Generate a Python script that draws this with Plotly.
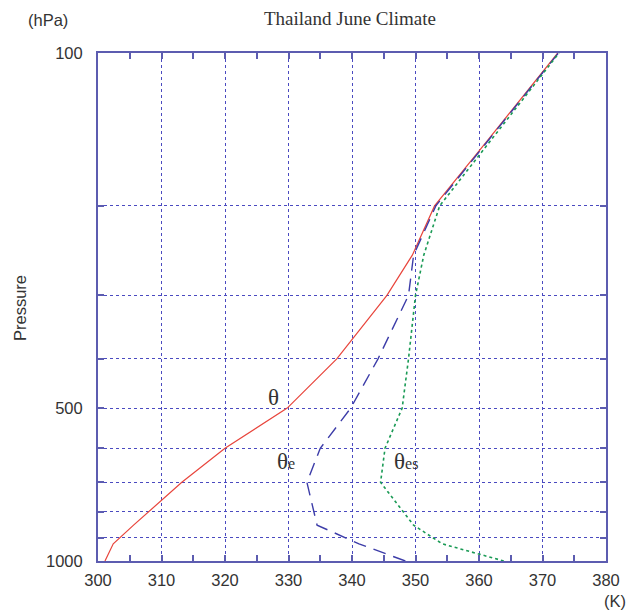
import plotly.graph_objects as go

# Pressure levels (hPa)
pressure = [1000, 925, 850, 700, 600, 500, 400, 300, 250, 200, 150, 100]
# Potential temperature (K)
theta = [301.1, 302.4, 305.6, 313.2, 320.0, 329.8, 337.6, 345.5, 349.5, 353.0, 361.1, 372.4]
# Equivalent potential temperature (K)
theta_e = [348.4, 341.1, 334.5, 332.9, 335.0, 339.8, 344.1, 348.9, 349.7, 353.2, 361.2, 372.5]
# Saturated equivalent potential temperature (K)
theta_es = [363.9, 354.2, 349.7, 344.5, 345.2, 347.9, 348.9, 350.0, 351.3, 353.8, 361.6, 372.6]

grid_levels = [100, 200, 300, 400, 500, 600, 700, 800, 900, 1000]
grid_labels = ["100", "", "", "", "500", "", "", "", "", "1000"]
x_ticks = [300, 310, 320, 330, 340, 350, 360, 370, 380]

AXIS_COLOR = "#5c5cb0"
GRID_COLOR = "#4a4ac0"
SANS = "Liberation Sans, Arial, sans-serif"
TICK_FONT = dict(family=SANS, size=16.5, color="#333333")
SERIF = "Liberation Serif, Times New Roman, serif"

fig = go.Figure()
fig.add_trace(go.Scatter(x=theta, y=pressure, mode="lines",
                         line=dict(color="#e8453c", width=1.2), name="θ"))
fig.add_trace(go.Scatter(x=theta_e, y=pressure, mode="lines",
                         line=dict(color="#3c3ca8", width=1.4, dash="13px,8px"), name="θe"))
fig.add_trace(go.Scatter(x=theta_es, y=pressure, mode="lines",
                         line=dict(color="#1a9a55", width=1.6, dash="3px,3px"), name="θes"))

fig.update_layout(
    width=633, height=611,
    margin=dict(l=98, r=27, t=53, b=50),
    paper_bgcolor="white", plot_bgcolor="white",
    showlegend=False,
    xaxis=dict(range=[300, 380], tickvals=x_ticks, ticks="inside", ticklen=6,
               tickcolor=AXIS_COLOR, tickwidth=1.5, ticklabelstandoff=3,
               showline=True, linecolor=AXIS_COLOR, linewidth=2, mirror="ticks",
               showgrid=True, gridcolor=GRID_COLOR, griddash="dot", gridwidth=1,
               minor=dict(dtick=5, ticks="inside", ticklen=6, tickcolor=AXIS_COLOR,
                          tickwidth=1.5, showgrid=False),
               tickfont=TICK_FONT, zeroline=False),
    yaxis=dict(type="log", range=[3, 2], tickvals=grid_levels, ticktext=grid_labels,
               ticks="inside", ticklen=6, tickcolor=AXIS_COLOR, tickwidth=1.5,
               ticklabelstandoff=10,
               showline=True, linecolor=AXIS_COLOR, linewidth=2, mirror="ticks",
               showgrid=True, gridcolor=GRID_COLOR, griddash="dot", gridwidth=1,
               tickfont=TICK_FONT, zeroline=False),
)

def pax(px):
    return (px - 98) / 508

def pay(py):
    return (561 - py) / 508

greek = dict(family=SERIF, size=23, color="#333333")
annotations = [
    dict(text="Thailand June Climate", xref="paper", yref="paper",
         x=pax(350), y=pay(19), xanchor="center", yanchor="middle",
         showarrow=False, font=dict(family=SERIF, size=19, color="#333333")),
    dict(text="(hPa)", xref="paper", yref="paper", x=pax(48), y=pay(20),
         xanchor="center", yanchor="middle", showarrow=False, font=TICK_FONT),
    dict(text="Pressure", xref="paper", yref="paper", x=pax(20), y=pay(308),
         xanchor="center", yanchor="middle", textangle=-90,
         showarrow=False, font=TICK_FONT),
    dict(text="(K)", xref="paper", yref="paper", x=pax(615), y=pay(601),
         xanchor="center", yanchor="middle", showarrow=False, font=TICK_FONT),
    dict(text="θ", x=327.6, y=2.679, xanchor="center", yanchor="middle",
         showarrow=False, font=greek),
    dict(text="θ<span style='font-size:16px'>e</span>", x=327.9, y=2.805,
         xanchor="left", yanchor="middle", showarrow=False, font=greek),
    dict(text="θ<span style='font-size:16px'>es</span>", x=346.3, y=2.805,
         xanchor="left", yanchor="middle", showarrow=False, font=greek),
]
fig.update_layout(annotations=annotations)

fig.write_html("out.html")
